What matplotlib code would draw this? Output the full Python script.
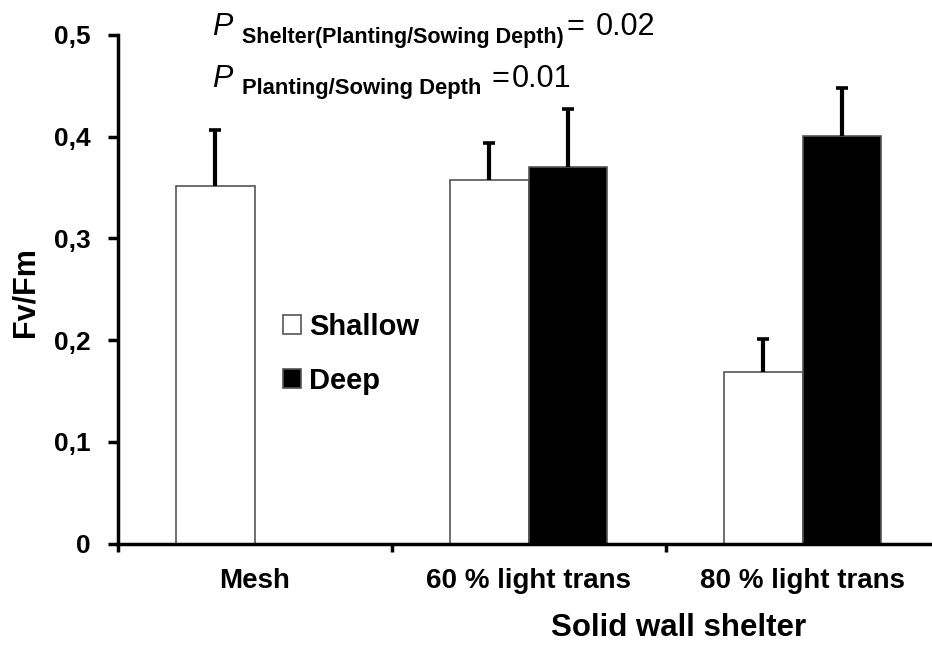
import numpy as np
import matplotlib
matplotlib.use('Agg')
import matplotlib.pyplot as plt
from matplotlib.patches import Patch
from matplotlib.ticker import FuncFormatter

plt.rcParams['font.family'] = ['Liberation Sans', 'DejaVu Sans']

shelters = ['Mesh', '60 % light trans', '80 % light trans']
shallow = [0.352, 0.357, 0.169]
shallow_err = [0.055, 0.037, 0.032]
deep = [np.nan, 0.370, 0.401]      # no deep planting under mesh
deep_err = [np.nan, 0.057, 0.047]

W, H = 932, 652
def fpos(x, y):
    return x / W, 1 - y / H

fig = plt.figure(figsize=(W / 100, H / 100), dpi=100)
ax = fig.add_axes([117.5 / W, 1 - 543.5 / H, 822 / W, 508.5 / H])

x = np.arange(len(shelters))
bw = 0.285
err_kw = dict(ecolor='black', elinewidth=3, capsize=4.3, capthick=2.6)

b1 = ax.bar(x - bw / 2, shallow, bw, color='white', edgecolor='#555555', linewidth=1.2,
            yerr=[np.zeros(3), shallow_err], error_kw=err_kw, zorder=2)
b2 = ax.bar(x + bw / 2, deep, bw, color='black', edgecolor='#555555', linewidth=1.2,
            yerr=[np.zeros(3), deep_err], error_kw=err_kw, zorder=2)
# upper error bars only: drop the caps sitting on the bar tops
for b in (b1, b2):
    b.errorbar.lines[1][0].set_visible(False)

ax.set_xlim(-0.5, 2.5)
ax.set_ylim(0, 0.5)

for s in ['top', 'right']:
    ax.spines[s].set_visible(False)
for s in ['left', 'bottom']:
    ax.spines[s].set_linewidth(2.5)

ax.set_yticks([0, 0.1, 0.2, 0.3, 0.4, 0.5])
ax.yaxis.set_major_formatter(FuncFormatter(lambda v, p: '0' if v == 0 else ('%.1f' % v).replace('.', ',')))
ax.tick_params(axis='y', direction='out', length=7, width=2.5, pad=12.5, labelsize=19)
for t in ax.get_yticklabels():
    t.set_fontweight('bold')

# group separators as major ticks, names as minor ticks
ax.set_xticks([-0.5, 0.5, 1.5])
ax.set_xticklabels([])
ax.set_xticks(x, minor=True)
ax.set_xticklabels(shelters, minor=True, fontsize=20, fontweight='bold')
ax.tick_params(axis='x', which='major', direction='out', length=6, width=2.5)
ax.tick_params(axis='x', which='minor', length=0, pad=18)

fig.text(*fpos(25, 292), 'Fv/Fm', rotation=90, ha='center', va='center',
         fontsize=22, fontweight='bold')
fig.text(*fpos(679, 628), 'Solid wall shelter', ha='center', va='center',
         fontsize=22.5, fontweight='bold')

# p-values
fig.text(*fpos(212, 35), 'P', style='italic', fontsize=22, va='baseline')
fig.text(*fpos(242, 43), 'Shelter(Planting/Sowing Depth)', fontweight='bold', fontsize=15.5, va='baseline')
fig.text(*fpos(567, 35), '=', fontsize=22, va='baseline')
fig.text(*fpos(596, 35), '0.02', fontsize=22, va='baseline')
fig.text(*fpos(212, 87), 'P', style='italic', fontsize=22, va='baseline')
fig.text(*fpos(242, 94), 'Planting/Sowing Depth', fontweight='bold', fontsize=15.8, va='baseline')
fig.text(*fpos(491, 87), '=', fontsize=22, va='baseline')
fig.text(*fpos(512, 87), '0.01', fontsize=22, va='baseline')

handles = [Patch(facecolor='white', edgecolor='#555555', linewidth=1.2, label='Shallow'),
           Patch(facecolor='black', edgecolor='#555555', linewidth=1.2, label='Deep')]
fig.legend(handles=handles, loc='upper left', bbox_to_anchor=fpos(283, 313),
           frameon=False, borderpad=0, borderaxespad=0, handlelength=0.6, handleheight=0.6,
           handletextpad=0.3, labelspacing=0.88, prop={'size': 21, 'weight': 'bold'})

plt.savefig('out.png', dpi=100)
